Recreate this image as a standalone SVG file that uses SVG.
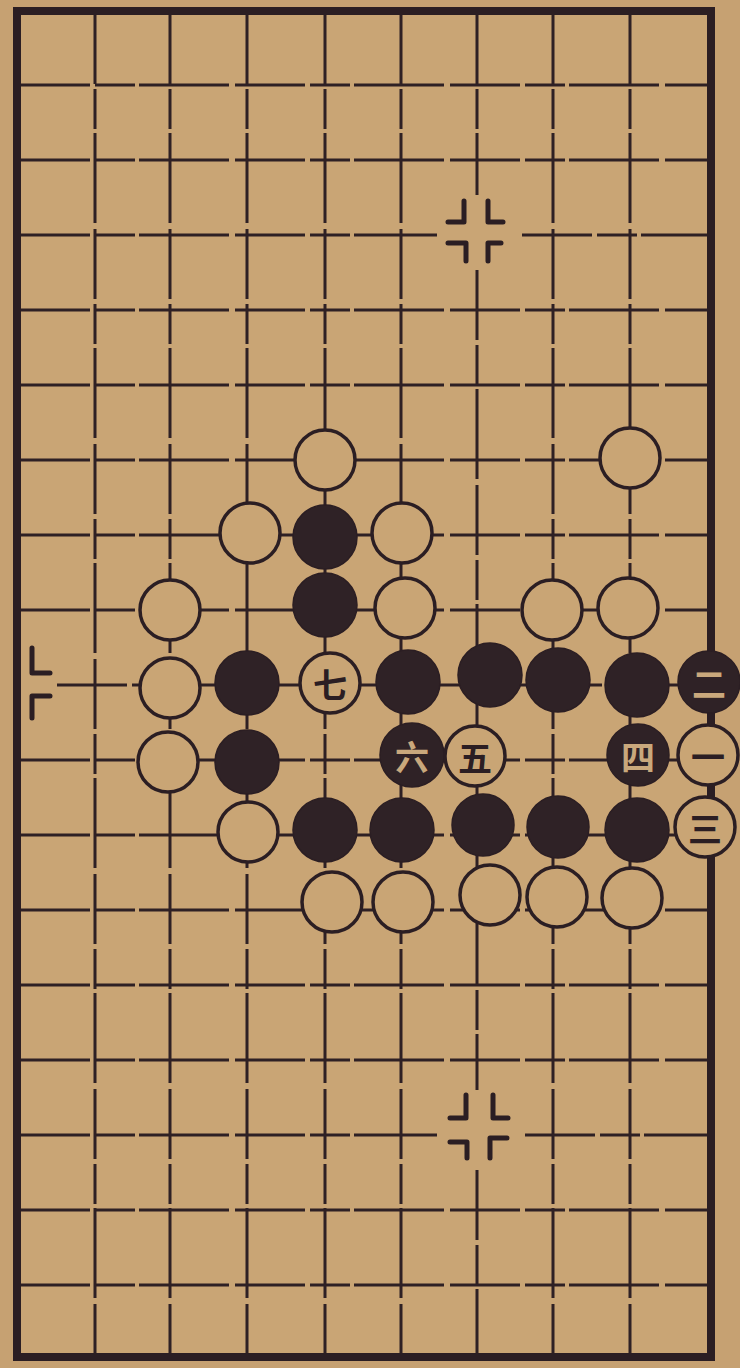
<svg xmlns="http://www.w3.org/2000/svg" width="740" height="1368" viewBox="0 0 740 1368">
<style>
.g{stroke:#2e2024;stroke-width:3;fill:none;stroke-dasharray:70 5 40 4 90 6}
.b{stroke:#2b1e23;fill:none}
.w{fill:#c9a575;stroke:#2b1e23;stroke-width:3.5}
.k{fill:#2f2226;stroke:#2b1e23;stroke-width:1.5}
.m{stroke:#2b1e23;stroke-width:5;fill:none;stroke-linecap:round;stroke-linejoin:round}
.t{font-family:"Noto Sans CJK SC","Noto Sans CJK TC",sans-serif;font-size:34px;font-weight:bold;text-anchor:middle;dominant-baseline:central}
.td{fill:#2b1e23}
.tl{fill:#c9a87c}
</style>
<rect x="0" y="0" width="740" height="1368" fill="#c6a172"/>
<rect x="17" y="11" width="694" height="1346" fill="#c9a575"/>
<g id="board">
<g class="g">
<line x1="95" y1="14" x2="95" y2="1356"/>
<line x1="170" y1="14" x2="170" y2="1356"/>
<line x1="247" y1="14" x2="247" y2="1356"/>
<line x1="325" y1="14" x2="325" y2="1356"/>
<line x1="401" y1="14" x2="401" y2="1356"/>
<line x1="477" y1="14" x2="477" y2="195"/>
<line x1="477" y1="270" x2="477" y2="1090"/>
<line x1="477" y1="1170" x2="477" y2="1356"/>
<line x1="553" y1="14" x2="553" y2="1356"/>
<line x1="630" y1="14" x2="630" y2="1356"/>
<line x1="20" y1="85" x2="710" y2="85"/>
<line x1="20" y1="160" x2="710" y2="160"/>
<line x1="20" y1="235" x2="437" y2="235"/>
<line x1="522" y1="235" x2="710" y2="235"/>
<line x1="20" y1="310" x2="710" y2="310"/>
<line x1="20" y1="385" x2="710" y2="385"/>
<line x1="20" y1="460" x2="710" y2="460"/>
<line x1="20" y1="535" x2="710" y2="535"/>
<line x1="20" y1="610" x2="710" y2="610"/>
<line x1="57" y1="685" x2="710" y2="685"/>
<line x1="20" y1="760" x2="710" y2="760"/>
<line x1="20" y1="835" x2="710" y2="835"/>
<line x1="20" y1="910" x2="710" y2="910"/>
<line x1="20" y1="985" x2="710" y2="985"/>
<line x1="20" y1="1060" x2="710" y2="1060"/>
<line x1="20" y1="1135" x2="437" y2="1135"/>
<line x1="525" y1="1135" x2="710" y2="1135"/>
<line x1="20" y1="1210" x2="710" y2="1210"/>
<line x1="20" y1="1285" x2="710" y2="1285"/>
</g>
<rect class="b" x="17" y="11" width="694" height="1346" stroke-width="8"/>
<g id="star-top" class="m">
<polyline points="448,222 464,222 464,201"/>
<polyline points="488,201 488,222 503,222"/>
<polyline points="448,243 466,243 466,261"/>
<polyline points="501,243 488,243 488,261"/>
</g>
<g id="star-bottom" class="m">
<polyline points="450,1118 466,1118 466,1095"/>
<polyline points="493,1095 493,1118 508,1118"/>
<polyline points="450,1142 467,1142 467,1158"/>
<polyline points="507,1138 490,1138 490,1158"/>
</g>
<g id="star-left" class="m">
<polyline points="32,648 32,673 50,673"/>
<polyline points="50,696 32,696 32,718"/>
</g>
</g>
<g id="stones">
<g id="w-325-460"><circle class="w" cx="325" cy="460" r="30"/></g>
<g id="w-630-458"><circle class="w" cx="630" cy="458" r="30"/></g>
<g id="w-250-533"><circle class="w" cx="250" cy="533" r="30"/></g>
<g id="b-325-537"><circle class="k" cx="325" cy="537" r="32"/></g>
<g id="w-402-533"><circle class="w" cx="402" cy="533" r="30"/></g>
<g id="w-170-610"><circle class="w" cx="170" cy="610" r="30"/></g>
<g id="b-325-605"><circle class="k" cx="325" cy="605" r="32"/></g>
<g id="w-405-608"><circle class="w" cx="405" cy="608" r="30"/></g>
<g id="w-552-610"><circle class="w" cx="552" cy="610" r="30"/></g>
<g id="w-628-608"><circle class="w" cx="628" cy="608" r="30"/></g>
<g id="w-170-688"><circle class="w" cx="170" cy="688" r="30"/></g>
<g id="b-247-683"><circle class="k" cx="247" cy="683" r="32"/></g>
<g id="w7"><circle class="w" cx="330" cy="683" r="30"/><text class="t td" x="330" y="683">七</text></g>
<g id="b-408-682"><circle class="k" cx="408" cy="682" r="32"/></g>
<g id="b-490-675"><circle class="k" cx="490" cy="675" r="32"/></g>
<g id="b-558-680"><circle class="k" cx="558" cy="680" r="32"/></g>
<g id="b-637-685"><circle class="k" cx="637" cy="685" r="32"/></g>
<g id="b2"><circle class="k" cx="709" cy="682" r="31"/><text class="t tl" x="709" y="682">二</text></g>
<g id="w-168-762"><circle class="w" cx="168" cy="762" r="30"/></g>
<g id="b-247-762"><circle class="k" cx="247" cy="762" r="32"/></g>
<g id="b6"><circle class="k" cx="412" cy="755" r="32"/><text class="t tl" x="412" y="755">六</text></g>
<g id="w5"><circle class="w" cx="475" cy="756" r="30"/><text class="t td" x="475" y="756">五</text></g>
<g id="b4"><circle class="k" cx="638" cy="755" r="31"/><text class="t tl" x="638" y="755">四</text></g>
<g id="w1"><circle class="w" cx="708" cy="755" r="30"/><text class="t td" x="708" y="755">一</text></g>
<g id="w-248-832"><circle class="w" cx="248" cy="832" r="30"/></g>
<g id="b-325-830"><circle class="k" cx="325" cy="830" r="32"/></g>
<g id="b-402-830"><circle class="k" cx="402" cy="830" r="32"/></g>
<g id="b-483-825"><circle class="k" cx="483" cy="825" r="31"/></g>
<g id="b-558-827"><circle class="k" cx="558" cy="827" r="31"/></g>
<g id="b-637-830"><circle class="k" cx="637" cy="830" r="32"/></g>
<g id="w3"><circle class="w" cx="705" cy="827" r="30"/><text class="t td" x="705" y="827">三</text></g>
<g id="w-332-902"><circle class="w" cx="332" cy="902" r="30"/></g>
<g id="w-403-902"><circle class="w" cx="403" cy="902" r="30"/></g>
<g id="w-490-895"><circle class="w" cx="490" cy="895" r="30"/></g>
<g id="w-557-897"><circle class="w" cx="557" cy="897" r="30"/></g>
<g id="w-632-898"><circle class="w" cx="632" cy="898" r="30"/></g>
</g>
</svg>
